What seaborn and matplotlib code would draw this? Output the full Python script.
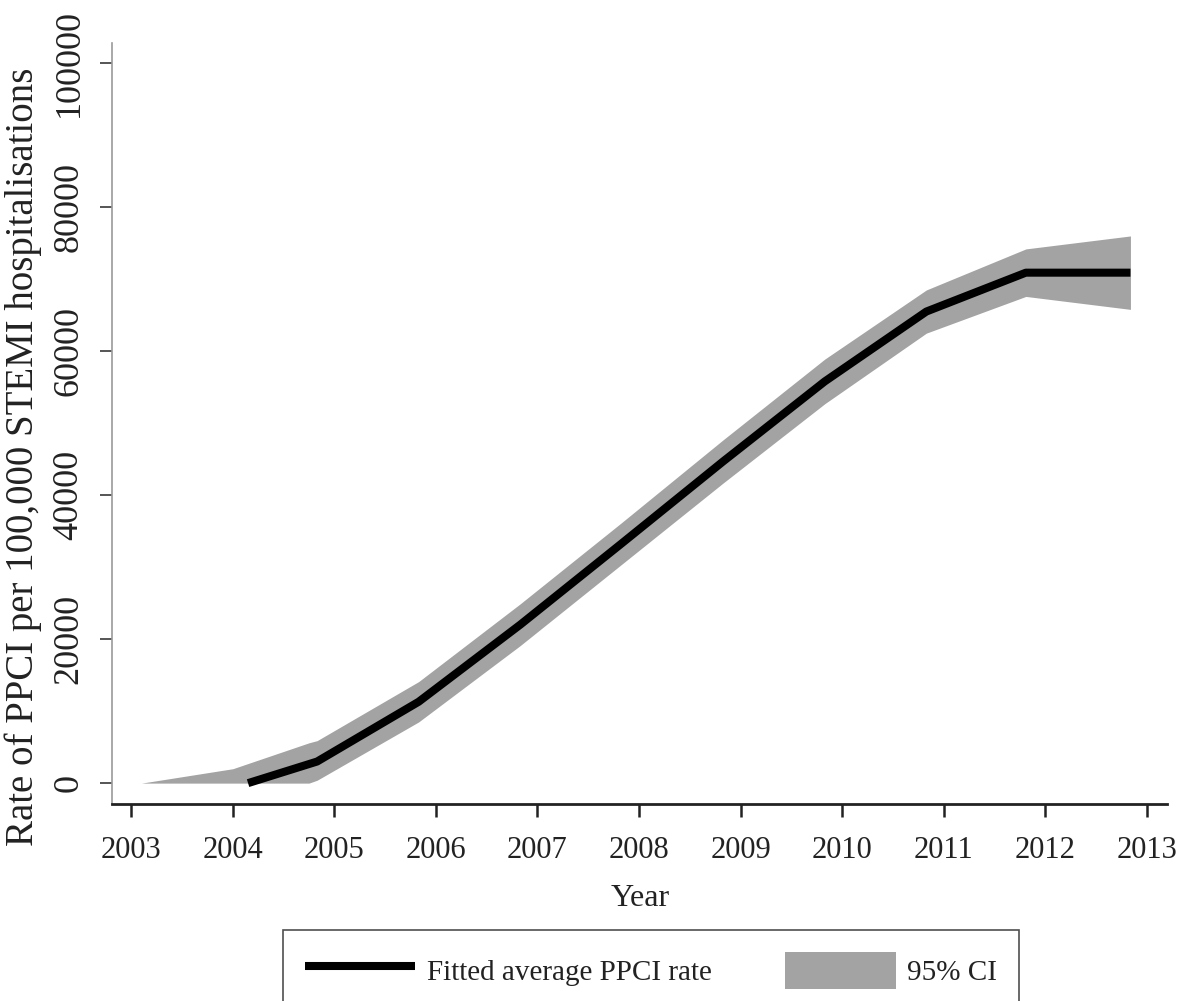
import numpy as np
import pandas as pd
import matplotlib
matplotlib.use("Agg")
import matplotlib.pyplot as plt
import seaborn as sns
from matplotlib.lines import Line2D
from matplotlib.patches import Patch

# ---- data ----
fit_years = [2004.15, 2004.83, 2005.83, 2006.83, 2007.83, 2008.83, 2009.83, 2010.83, 2011.81, 2012.84]
fit_rate = [0, 3000, 11300, 22000, 33300, 44700, 55800, 65500, 70900, 70900]

ci_years = [2003.10, 2004.00, 2004.75, 2004.83, 2005.83, 2006.83, 2007.83, 2008.83, 2009.83, 2010.83, 2011.81, 2012.84]
ci_low = [0, 0, 0, 400, 8500, 19100, 30400, 41700, 52700, 62500, 67600, 65800]
ci_high = [0, 2000, 5600, 5900, 14100, 24900, 36200, 47700, 58900, 68500, 74200, 76000]

x_ticks = [2003, 2004, 2005, 2006, 2007, 2008, 2009, 2010, 2011, 2012, 2013]
y_ticks = [0, 20000, 40000, 60000, 80000, 100000]

line_label = "Fitted average PPCI rate"
ci_label = "95% CI"
x_title = "Year"
y_title = "Rate of PPCI per 100,000 STEMI hospitalisations"

fit_df = pd.DataFrame({"year": fit_years, "rate": fit_rate})
ci_df = pd.DataFrame({"year": ci_years, "lo": ci_low, "hi": ci_high})

sns.set_theme(style="white")
plt.rcParams["font.family"] = ["Liberation Serif", "DejaVu Serif"]

fig = plt.figure(figsize=(11.8, 10.01), dpi=100)
ax = fig.add_axes([112 / 1180, 1 - 804 / 1001, (1167 - 112) / 1180, (804 - 43) / 1001])

gray = "#a3a3a3"
ax.fill_between(ci_df["year"], ci_df["lo"], ci_df["hi"], color=gray, linewidth=0, zorder=1)
sns.lineplot(data=fit_df, x="year", y="rate", color="black", linewidth=5.8, ax=ax,
             zorder=2, solid_capstyle="butt", estimator=None, sort=False)

ax.set_xlim(2002.81, 2013.2)
ax.set_ylim(-2900, 102800)
ax.set_xticks(x_ticks)
ax.set_yticks(y_ticks)
ax.set_xticklabels([str(v) for v in x_ticks])
ax.set_yticklabels([str(v) for v in y_ticks], rotation=90, va="center")

for s in ["top", "right"]:
    ax.spines[s].set_visible(False)
ax.spines["left"].set_color("#9a9a9a")
ax.spines["left"].set_linewidth(1.2)
ax.spines["bottom"].set_color("#222222")
ax.spines["bottom"].set_linewidth(2.0)

ax.tick_params(axis="x", direction="out", length=9, width=1.8, color="#222222",
               labelsize=22, pad=14, labelcolor="#222222", bottom=True)
ax.tick_params(axis="y", direction="out", length=9, width=1.4, color="#555555",
               labelsize=26, pad=10, labelcolor="#222222", left=True)

ax.set_xlabel(x_title, fontsize=23, color="#222222")
ax.set_ylabel(y_title, fontsize=28, color="#222222")
ax.xaxis.set_label_coords((640 - 112) / 1055, -(884 - 804) / 761)
ax.yaxis.set_label_coords(-(112 - 42) / 1055, (804 - 457) / 761)

handles = [Line2D([0], [0], color="black", linewidth=5.8, solid_capstyle="butt"),
           Patch(facecolor=gray, edgecolor="none")]
leg = fig.legend(handles, [line_label, ci_label], ncol=2, loc="upper center",
                 bbox_to_anchor=(651 / 1180, 1 - 930 / 1001), frameon=True,
                 fontsize=21, handlelength=3.8, handleheight=1.6, columnspacing=2.5,
                 handletextpad=0.4, borderpad=0.75, fancybox=False, borderaxespad=0)
leg.get_frame().set_edgecolor("#222222")
leg.get_frame().set_linewidth(1.2)
for t in leg.get_texts():
    t.set_color("#222222")

fig.savefig("out.png", dpi=100)
